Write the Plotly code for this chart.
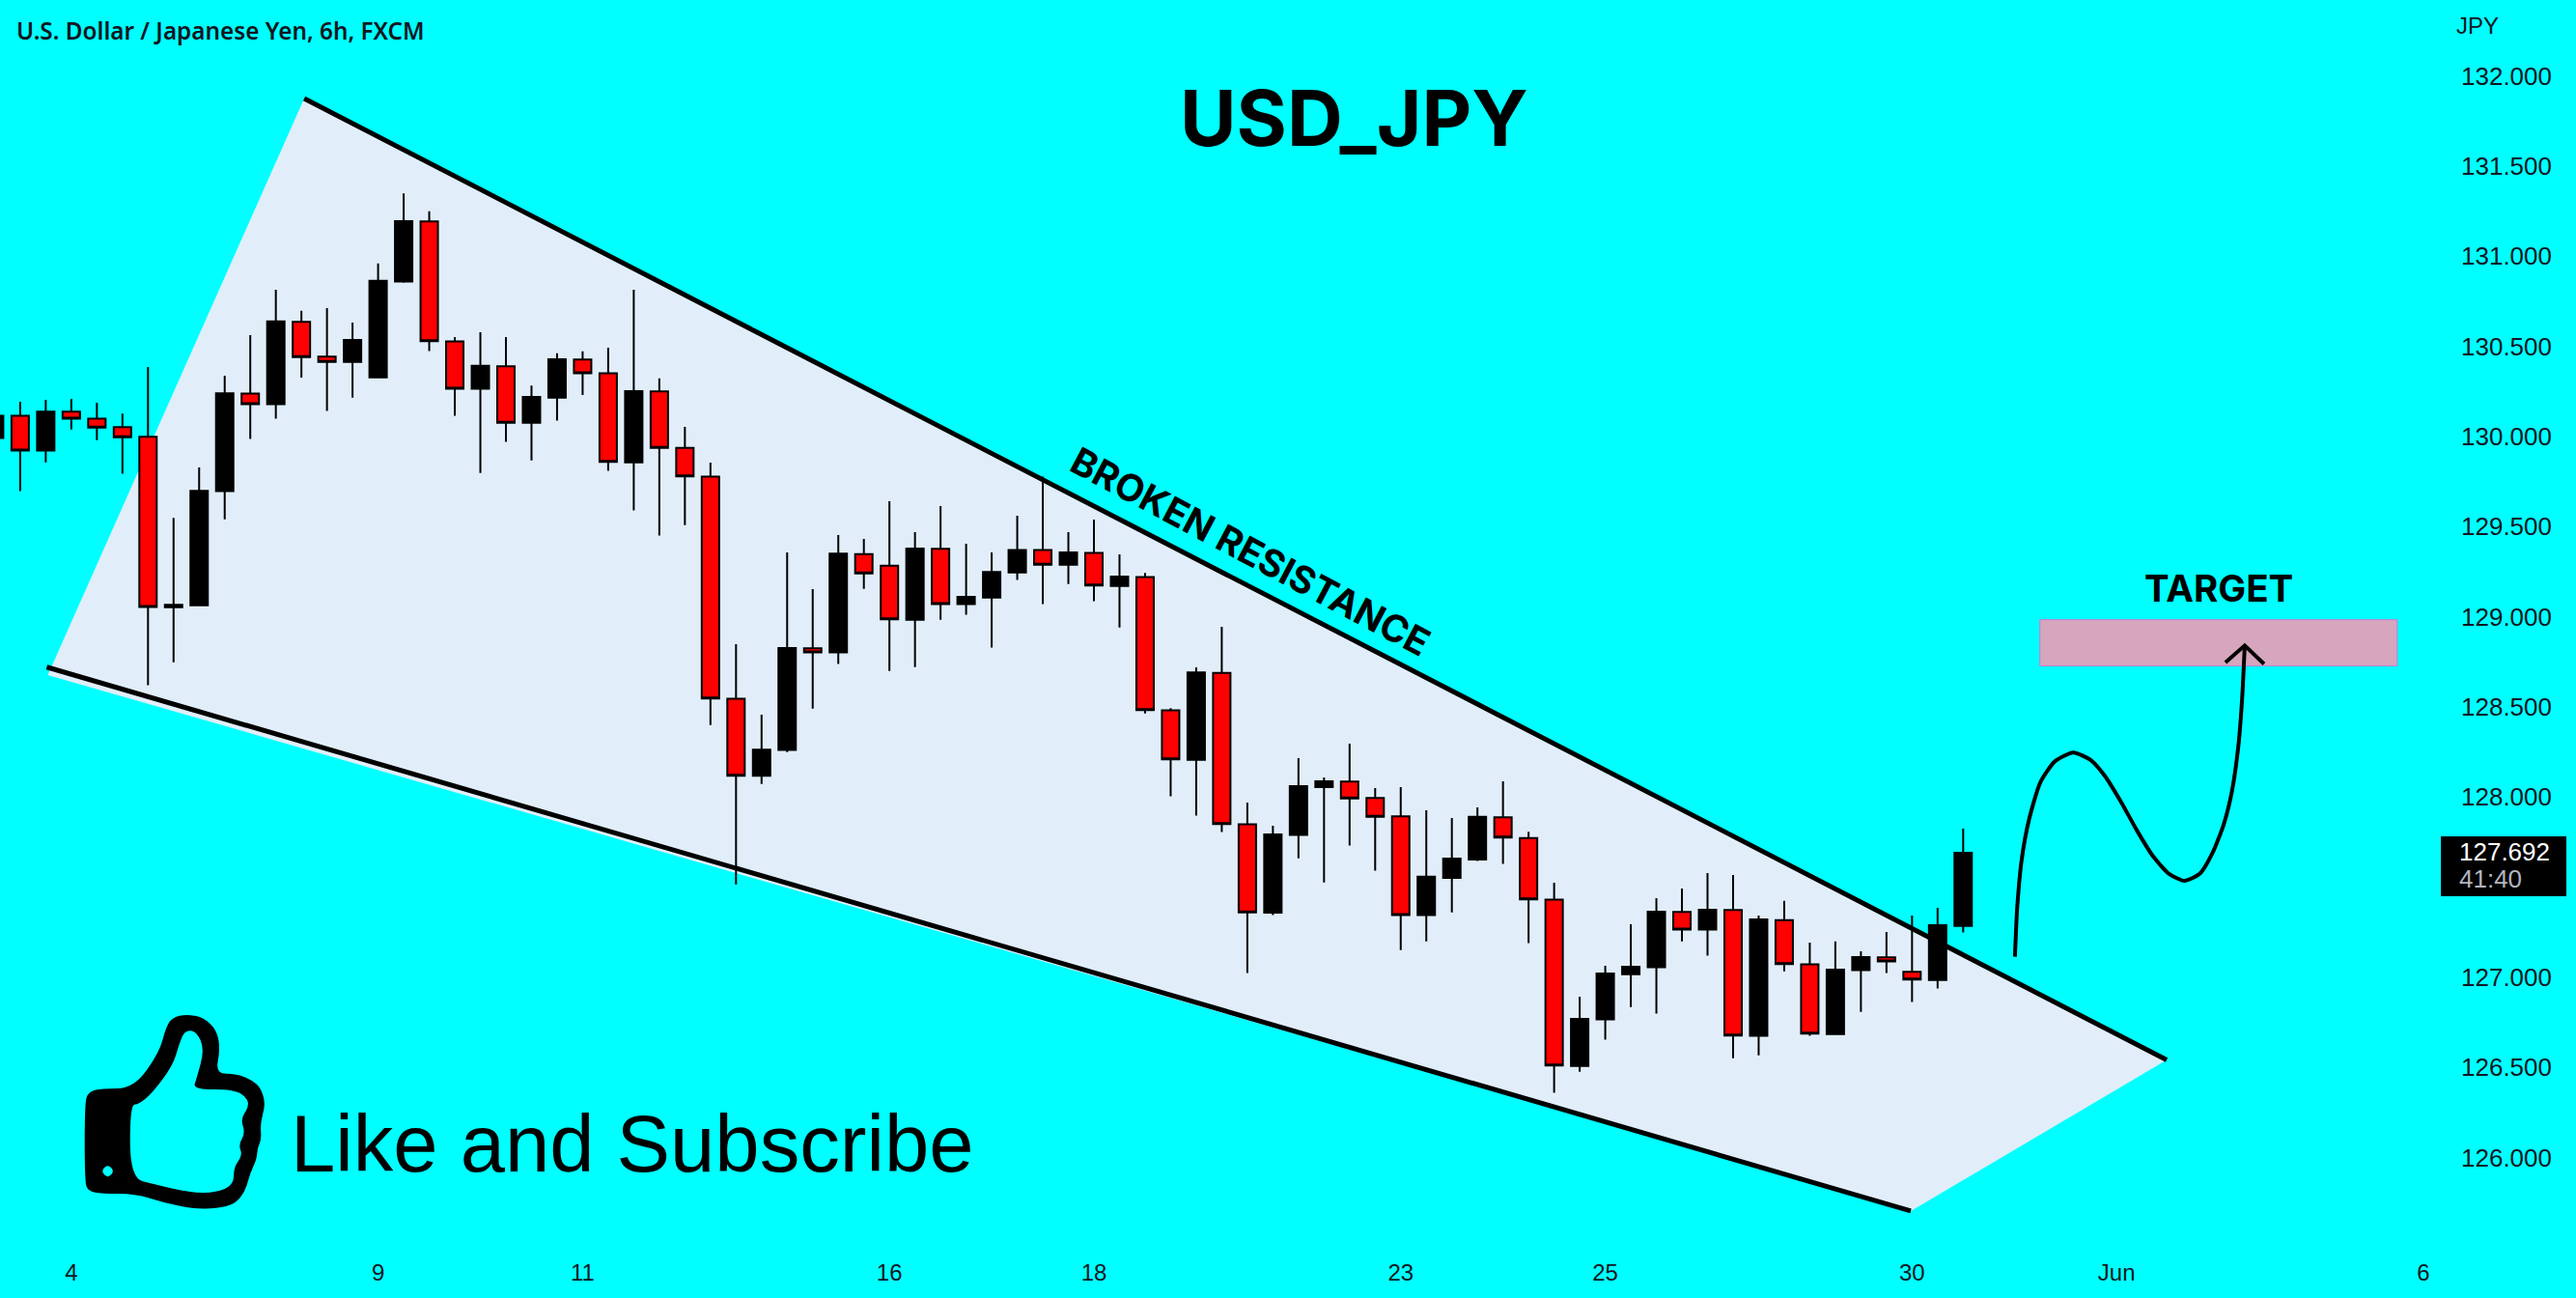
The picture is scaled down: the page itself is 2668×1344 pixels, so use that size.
import plotly.graph_objects as go

W, H = 2668, 1344
PL_R, PL_B = 2525, 1290

candle_index = list(range(78))
opens = [129.991,130.114,129.921,130.137,130.098,130.051,129.997,129.052,129.063,129.696,
130.237,130.178,130.635,130.442,130.413,130.327,130.858,131.192,130.526,130.264,
130.389,130.075,130.215,130.426,130.350,129.856,130.249,129.936,129.776,128.544,
128.117,128.260,128.824,128.801,129.347,129.283,128.983,129.376,129.069,129.106,
129.245,129.370,129.288,129.353,129.170,129.220,128.480,128.206,128.688,127.848,
127.358,127.789,128.055,128.085,127.994,127.892,127.344,127.551,127.653,127.887,
127.772,127.430,126.508,126.766,127.017,127.055,127.362,127.264,127.373,126.675,
127.317,127.071,126.685,127.039,127.110,127.030,126.985,127.285]
highs = [130.20,130.192,130.202,130.208,130.186,130.126,130.385,129.548,129.827,130.336,
130.561,130.813,130.696,130.711,130.631,130.959,131.348,131.248,130.551,130.577,
130.551,130.282,130.461,130.471,130.491,130.813,130.321,130.053,129.854,128.847,
128.456,129.356,129.153,129.453,129.431,129.640,129.469,129.613,129.404,129.356,
129.560,129.777,129.469,129.538,129.345,129.242,128.492,128.719,128.944,127.969,
127.840,128.215,128.108,128.296,128.049,128.055,127.926,127.883,127.942,128.087,
127.806,127.524,126.892,127.064,127.294,127.439,127.492,127.578,127.567,127.342,
127.423,127.192,127.198,127.144,127.251,127.342,127.385,127.824]
lows = [129.90,129.696,129.856,130.038,129.979,129.792,128.620,128.747,129.063,129.540,
129.985,130.098,130.325,130.141,130.215,130.327,130.852,130.473,130.114,129.796,
129.969,129.866,130.087,130.229,129.809,129.589,129.450,129.507,128.399,127.515,
128.072,128.249,128.490,128.737,129.154,128.699,128.720,128.983,129.010,128.828,
129.203,129.069,129.181,129.085,128.940,128.463,128.003,127.896,127.805,127.023,
127.344,127.660,127.526,127.730,127.591,127.151,127.199,127.360,127.644,127.628,
127.189,126.359,126.476,126.653,126.835,126.798,127.199,127.119,126.551,126.567,
127.033,126.675,126.680,126.808,127.023,126.862,126.937,127.248]
closes = [130.114,129.921,130.137,130.098,130.049,129.995,129.054,129.065,129.698,130.239,
130.178,130.637,130.440,130.413,130.534,130.862,131.194,130.528,130.264,130.391,
130.075,130.219,130.428,130.350,129.858,130.251,129.936,129.778,128.546,128.117,
128.262,128.826,128.801,129.349,129.240,128.985,129.378,129.070,129.110,129.247,
129.370,129.288,129.356,129.172,129.222,128.481,128.208,128.690,127.849,127.360,
127.792,128.060,128.087,127.992,127.890,127.344,127.557,127.658,127.889,127.774,
127.432,126.510,126.769,127.021,127.058,127.364,127.264,127.374,126.676,127.321,
127.073,126.687,127.042,127.112,127.087,126.987,127.289,127.690]

x_tick_index = [3, 15, 23, 35, 43, 55, 63, 75, 83, 95]
x_tick_text = ["4", "9", "11", "16", "18", "23", "25", "30", "Jun", "6"]
y_tick_values = [126, 126.5, 127, 128, 128.5, 129, 129.5, 130, 130.5, 131, 131.5, 132]
y_tick_text = ["%.3f" % v for v in y_tick_values]

wedge_index = [2.08, 12.11, 84.96, 74.95]
wedge_price = [128.676, 131.874, 126.541, 125.703]
upper_line_index = [12.11, 84.96]
upper_line_price = [131.874, 126.541]
lower_line_index = [2.04, 74.95]
lower_line_price = [128.72, 125.703]
target_index = [80.0, 93.98]
target_price = [128.727, 128.983]
curve_index = [79.025,79.113,79.289,79.579,80.019,80.586,81.303,81.971,82.537,83.167,83.796,84.425,85.055,85.659,86.251,86.754,87.195,87.509,87.761,87.912,88.013]
curve_price = [127.114,127.385,127.653,127.876,128.081,128.197,128.246,128.206,128.117,127.974,127.814,127.671,127.573,127.535,127.573,127.689,127.849,128.028,128.278,128.546,128.840]
arrow_index = [87.258, 88.013, 88.768]
arrow_price = [128.746, 128.840, 128.737]

BG = "#00ffff"
INK = "#131722"

def px(x):
    return x / PL_R

def py(y):
    return 1 - y / PL_B

def closed_path(points):
    pts = [(px(a / 1.425), py(1000 + b / 3)) for a, b in points]
    n = len(pts)
    mid = lambda p, q: ((p[0] + q[0]) / 2, (p[1] + q[1]) / 2)
    s = mid(pts[-1], pts[0])
    d = "M %.6f %.6f" % s
    for i in range(n):
        m = mid(pts[i], pts[(i + 1) % n])
        d += " Q %.6f %.6f %.6f %.6f" % (pts[i][0], pts[i][1], m[0], m[1])
    return d + " Z"

thumb_outer = [(125,430),(130,392),(150,381),(197,381),(235,270),(245,190),(255,160),(275,151),(300,160),(320,200),(325,260),(318,335),
(350,336),(372,355),(385,380),(392,430),(384,490),(386,540),(380,565),(379,600),(369,645),(362,700),(347,740),(320,754),(285,755),(240,735),(200,708),
(150,708),(130,700),(125,670)]
thumb_inner = [(192,432),(205,430),(225,395),(255,310),(265,240),(273,200),(290,203),(302,260),(290,350),(285,384),(345,384),(365,410),(367,440),
(355,475),(362,520),(352,555),(358,590),(345,625),(345,680),(320,705),(280,705),(230,680),(192,660)]
thumb_hole = [(159,616),(169,638),(159,660),(149,638)]

fig = go.Figure()
fig.add_trace(go.Candlestick(
    x=candle_index, open=opens, high=highs, low=lows, close=closes,
    increasing=dict(line=dict(color="#000000", width=2), fillcolor="#000000"),
    decreasing=dict(line=dict(color="#000000", width=2), fillcolor="#ff0000"),
    whiskerwidth=0, showlegend=False, hoverinfo="skip",
))
fig.add_trace(go.Scatter(x=curve_index, y=curve_price, mode="lines",
    line=dict(color="#000000", width=4, shape="spline", smoothing=0.6), showlegend=False, hoverinfo="skip"))
fig.add_trace(go.Scatter(x=arrow_index, y=arrow_price, mode="lines",
    line=dict(color="#000000", width=4), showlegend=False, hoverinfo="skip"))

wedge_path = "M " + " L ".join("%s %s" % (a, b) for a, b in zip(wedge_index, wedge_price)) + " Z"
shapes = [
    dict(type="path", path=wedge_path, xref="x", yref="y", fillcolor="#e1eefa", line=dict(width=0), layer="below"),
    dict(type="line", x0=upper_line_index[0], x1=upper_line_index[1], y0=upper_line_price[0], y1=upper_line_price[1],
         xref="x", yref="y", line=dict(color="#000000", width=5), layer="below"),
    dict(type="line", x0=lower_line_index[0], x1=lower_line_index[1], y0=lower_line_price[0], y1=lower_line_price[1],
         xref="x", yref="y", line=dict(color="#000000", width=5), layer="below"),
    dict(type="rect", x0=target_index[0], x1=target_index[1], y0=target_price[0], y1=target_price[1],
         xref="x", yref="y", fillcolor="#d5a6bd", line=dict(color="#c57bd6", width=1), layer="below"),
    dict(type="path", path=closed_path(thumb_outer) + " " + closed_path(thumb_inner) + " " + closed_path(thumb_hole),
         xref="paper", yref="paper", fillcolor="#000000", line=dict(width=0)),
    dict(type="rect", x0=px(2528), x1=px(2658), y0=py(928), y1=py(866), xref="paper", yref="paper",
         fillcolor="#000000", line=dict(width=0)),
]

def note(text, x, y, size, color="#000000", weight="normal", anchor="center", angle=0, family="Inter"):
    return dict(text=text, x=px(x), y=py(y), xref="paper", yref="paper", showarrow=False,
                xanchor=anchor, yanchor="middle", textangle=angle,
                font=dict(family=family, size=size, color=color, weight=weight))

annotations = [
    note("U.S. Dollar / Japanese Yen, 6h, FXCM", 15, 31, 24.3, INK, 600, "left", family="Noto Sans"),
    note("JPY", 2542, 26, 24, INK, "normal", "left", family="Liberation Sans"),
    note("USD_JPY", 1402, 121, 80, "#000000", "bold"),
    note("TARGET", 2298, 609, 38.5, "#000000", "bold"),
    note("BROKEN RESISTANCE", 1295, 571, 38.7, "#000000", "bold", angle=28),
    note("Like and Subscribe", 299, 1184, 83.2, "#000000", "normal", "left", family="Liberation Sans"),
    note("127.692", 2545, 882, 26, "#ffffff", "normal", "left", family="Liberation Sans"),
    note("41:40", 2545, 910, 26, "#b2b5be", "normal", "left", family="Liberation Sans"),
]

fig.update_layout(
    width=W, height=H,
    margin=dict(l=0, r=W - PL_R, t=0, b=H - PL_B, pad=0),
    paper_bgcolor=BG, plot_bgcolor=BG,
    boxgap=0.32, boxgroupgap=0,
    showlegend=False,
    shapes=shapes, annotations=annotations,
    font=dict(family="Liberation Sans", color=INK),
    xaxis=dict(range=[0.2107, 95.57], tickvals=x_tick_index, ticktext=x_tick_text, showgrid=False, zeroline=False,
               showline=False, ticks="", rangeslider=dict(visible=False), tickfont=dict(size=24, color=INK), ticklabelstandoff=11),
    yaxis=dict(range=[125.51, 132.42], side="right", tickvals=y_tick_values, ticktext=y_tick_text, showgrid=False,
               zeroline=False, showline=False, ticks="", tickfont=dict(size=26, color=INK), ticklabelstandoff=23),
)

fig.write_html("out.html", config=dict(displayModeBar=False),
               post_script="document.body.style.margin='0';document.body.style.overflow='hidden';")
